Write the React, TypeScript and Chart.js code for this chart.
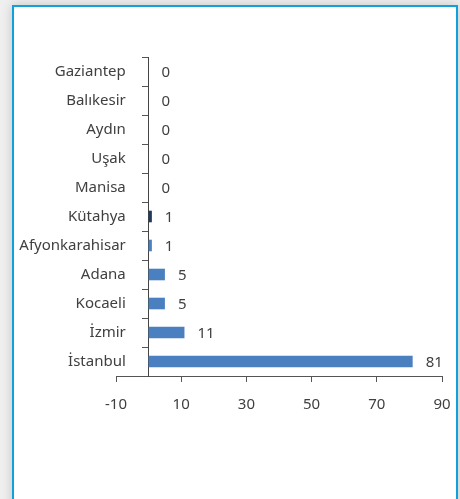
import React, { useEffect, useRef } from "react";
import { Chart, registerables } from "chart.js";

Chart.register(...registerables);

const categories = [
  "Gaziantep",
  "Balıkesir",
  "Aydın",
  "Uşak",
  "Manisa",
  "Kütahya",
  "Afyonkarahisar",
  "Adana",
  "Kocaeli",
  "İzmir",
  "İstanbul",
];
const values = [0, 0, 0, 0, 0, 1, 1, 5, 5, 11, 81];
const highlighted = ["Kütahya"];
const xMin = -10;
const xMax = 90;
const xStep = 20;

const BLUE = "#4a7fc0";
const DARK = "#1f3a5a";
const TEXT = "#404040";
const FONT = "'Noto Sans', 'Open Sans', sans-serif";

const valueLabels = {
  id: "valueLabels",
  afterDatasetsDraw(chart: any) {
    const ctx = chart.ctx;
    const meta = chart.getDatasetMeta(0);
    ctx.save();
    ctx.font = `15px ${FONT}`;
    ctx.fillStyle = TEXT;
    ctx.textAlign = "left";
    ctx.textBaseline = "middle";
    meta.data.forEach((bar: any, i: number) => {
      ctx.fillText(String(values[i]), bar.x + 13, bar.y + 1);
    });
    ctx.restore();
  },
};

export default function App() {
  const ref = useRef<HTMLCanvasElement>(null);
  useEffect(() => {
    if (!ref.current) return;
    const chart = new Chart(ref.current, {
      type: "bar",
      data: {
        labels: categories,
        datasets: [
          {
            data: values,
            backgroundColor: categories.map((c) => (highlighted.includes(c) ? DARK : BLUE)),
            categoryPercentage: 0.8,
            barPercentage: 0.5,
            yAxisID: "y",
            xAxisID: "x",
          },
        ],
      },
      options: {
        indexAxis: "y",
        animation: false,
        responsive: false,
        devicePixelRatio: 1,
        layout: { padding: { left: 116, right: 18, top: 57, bottom: 84 } },
        plugins: { legend: { display: false }, tooltip: { enabled: false } },
        scales: {
          x: {
            type: "linear",
            position: "bottom",
            min: xMin,
            max: xMax,
            ticks: {
              stepSize: xStep,
              color: TEXT,
              font: { family: FONT, size: 15 },
              padding: 14,
            },
            grid: {
              display: true,
              drawOnChartArea: false,
              drawTicks: true,
              tickLength: 6,
              color: "#555555",
            },
            border: { display: true, color: "#555555", width: 1 },
            afterFit: (s: any) => {
              s.height = 39;
              s.paddingLeft = 0;
              s.paddingRight = 0;
            },
          },
          y: {
            type: "category",
            position: { x: 0 } as any,
            ticks: { display: false },
            grid: {
              display: true,
              offset: true,
              drawOnChartArea: false,
              drawTicks: true,
              tickLength: 6,
              color: "#555555",
            },
            border: { display: true, color: "#444444", width: 1 },
            afterFit: (s: any) => {
              s.paddingTop = 0;
              s.paddingBottom = 0;
            },
          },
          yLabels: {
            type: "category",
            position: { x: -7 },
            axis: "y",
            offset: true,
            ticks: {
              color: TEXT,
              font: { family: FONT, size: 15 },
              padding: 0,
            },
            grid: { display: false, drawTicks: false },
            border: { display: false },
            afterFit: (s: any) => {
              s.paddingTop = 0;
              s.paddingBottom = 0;
            },
          } as any,
        },
      },
      plugins: [valueLabels],
    });
    return () => chart.destroy();
  }, []);

  return (
    <div
      style={{
        position: "fixed",
        left: 0,
        top: 0,
        width: 460,
        height: 499,
        background: "#efefef",
        overflow: "hidden",
      }}
    >
      <div
        style={{
          position: "absolute",
          left: 12,
          top: 5,
          width: 446,
          height: 540,
          boxSizing: "border-box",
          border: "2px solid #0ea1dd",
          background: "#ffffff",
          boxShadow: "0 0 10px rgba(0,0,0,0.18)",
        }}
      />
      <canvas
        ref={ref}
        width={460}
        height={499}
        style={{ position: "absolute", left: 0, top: 0, width: 460, height: 499 }}
      />
    </div>
  );
}
